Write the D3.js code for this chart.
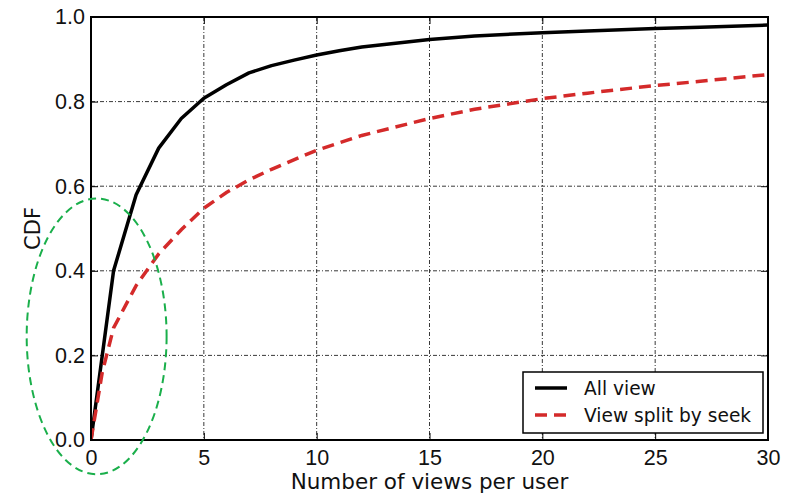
<!DOCTYPE html>
<html>
<head>
<meta charset="utf-8">
<script src="https://cdn.jsdelivr.net/npm/d3@7"></script>
<style>
  body { margin: 0; background: #fff; }
  svg { font-family: "DejaVu Sans", sans-serif; }
</style>
</head>
<body>
<script>
// series
var allX = [0, 1, 2, 3, 4, 5, 6, 7, 8, 9, 10, 11, 12, 13, 14, 15, 17, 20, 22, 25, 27, 30];
var allY = [0, 0.40, 0.58, 0.69, 0.76, 0.808, 0.84, 0.868, 0.885, 0.898, 0.91, 0.92, 0.929, 0.935, 0.941, 0.947, 0.955, 0.963, 0.967, 0.973, 0.976, 0.981];

var seekX = [0, 0.5, 1, 2, 3, 4, 5, 6, 7, 8, 10, 12, 15, 17, 20, 22, 25, 27, 30];
var seekY = [0, 0.16, 0.265, 0.365, 0.44, 0.497, 0.548, 0.585, 0.615, 0.64, 0.685, 0.72, 0.76, 0.782, 0.807, 0.82, 0.838, 0.848, 0.864];

var xTicks = [0, 5, 10, 15, 20, 25, 30];
var yTicks = [0, 0.2, 0.4, 0.6, 0.8, 1.0];
var legendNames = ["All view", "View split by seek"];

// green annotation ellipse, in data units: centre x, centre y, radius x, radius y
var ringCenter = [0.25, 0.245];
var ringRadius = [3.1, 0.326];

var W = 792, H = 497;
var margin = {left: 91, right: 24, top: 17, bottom: 57};
var width = W - margin.left - margin.right;
var height = H - margin.top - margin.bottom;

var x = d3.scaleLinear().domain([0, 30]).range([0, width]);
var y = d3.scaleLinear().domain([0, 1]).range([height, 0]);

var svg = d3.select("body").append("svg").attr("width", W).attr("height", H);
svg.append("rect").attr("width", W).attr("height", H).attr("fill", "#fff");

var g = svg.append("g").attr("transform", "translate(" + margin.left + "," + margin.top + ")");

// grid
g.selectAll("line.gx").data(xTicks.slice(1, -1)).enter().append("line")
    .attr("class", "gx")
    .attr("x1", d => x(d)).attr("x2", d => x(d))
    .attr("y1", 0).attr("y2", height)
    .attr("stroke", "#222").attr("stroke-width", 0.9)
    .attr("stroke-dasharray", "4,2,1,2");
g.selectAll("line.gy").data(yTicks.slice(1, -1)).enter().append("line")
    .attr("class", "gy")
    .attr("x1", 0).attr("x2", width)
    .attr("y1", d => y(d)).attr("y2", d => y(d))
    .attr("stroke", "#222").attr("stroke-width", 0.9)
    .attr("stroke-dasharray", "4,2,1,2");

// axes with inward ticks
var xAxis = d3.axisBottom(x).tickValues(xTicks).tickFormat(d3.format("d")).tickSizeInner(-7).tickSizeOuter(0).tickPadding(10);
var yAxis = d3.axisLeft(y).tickValues(yTicks).tickFormat(d3.format(".1f")).tickSizeInner(-7).tickSizeOuter(0).tickPadding(6);

var gx = g.append("g").attr("transform", "translate(0," + height + ")").call(xAxis);
var gy = g.append("g").call(yAxis);
g.append("g").call(d3.axisTop(x).tickValues(xTicks).tickSizeInner(-7).tickSizeOuter(0).tickFormat(""));
g.append("g").attr("transform", "translate(" + width + ",0)")
    .call(d3.axisRight(y).tickValues(yTicks).tickSizeInner(-7).tickSizeOuter(0).tickFormat(""));

g.selectAll(".domain").remove();
g.selectAll(".tick line").attr("stroke", "#000").attr("stroke-width", 1);
gx.selectAll("text").attr("font-size", 21.5).attr("fill", "#111");
gy.selectAll("text").attr("font-size", 21.5).attr("fill", "#111");

g.append("clipPath").attr("id", "plot-clip")
    .append("rect").attr("width", width).attr("height", height);

var line = d3.line().x(d => x(d[0])).y(d => y(d[1]));

g.append("path")
    .attr("d", line(allX.map((v, i) => [v, allY[i]])))
    .attr("fill", "none").attr("stroke", "#000").attr("stroke-width", 3.5)
    .attr("stroke-linejoin", "round")
    .attr("clip-path", "url(#plot-clip)");

g.append("path")
    .attr("d", line(seekX.map((v, i) => [v, seekY[i]])))
    .attr("fill", "none").attr("stroke", "#d42a2a").attr("stroke-width", 3.5)
    .attr("stroke-dasharray", "12,7")
    .attr("clip-path", "url(#plot-clip)");

// frame
g.append("rect").attr("width", width).attr("height", height)
    .attr("fill", "none").attr("stroke", "#000").attr("stroke-width", 2);

// axis labels
g.append("text")
    .attr("x", width / 2).attr("y", height + 49)
    .attr("text-anchor", "middle").attr("font-size", 21.5).attr("fill", "#111")
    .text("Number of views per user");
g.append("text")
    .attr("transform", "translate(" + (-51) + "," + (height / 2) + ") rotate(-90)")
    .attr("text-anchor", "middle").attr("font-size", 21).attr("fill", "#111")
    .text("CDF");

// legend
var lg = g.append("g").attr("transform", "translate(" + (width - 245) + "," + (height - 68) + ")");
lg.append("rect").attr("width", 240).attr("height", 61)
    .attr("fill", "#fff").attr("stroke", "#000").attr("stroke-width", 1.5);
var styles = [{color: "#000", dash: null}, {color: "#d42a2a", dash: "12,7"}];
legendNames.forEach(function (name, i) {
    var ly = 16 + i * 27;
    lg.append("line").attr("x1", 12).attr("x2", 44).attr("y1", ly).attr("y2", ly)
        .attr("stroke", styles[i].color).attr("stroke-width", 3.5)
        .attr("stroke-dasharray", styles[i].dash);
    lg.append("text").attr("x", 61).attr("y", ly).attr("dy", "0.35em")
        .attr("font-size", 18.6).attr("fill", "#111").text(name);
});

// green annotation ring (drawn over everything, not clipped)
g.append("ellipse")
    .attr("cx", x(ringCenter[0])).attr("cy", y(ringCenter[1]))
    .attr("rx", x(ringRadius[0]) - x(0)).attr("ry", y(0) - y(ringRadius[1]))
    .attr("fill", "none").attr("stroke", "#1aaf4b").attr("stroke-width", 2)
    .attr("stroke-dasharray", "8,5");
</script>
</body>
</html>
